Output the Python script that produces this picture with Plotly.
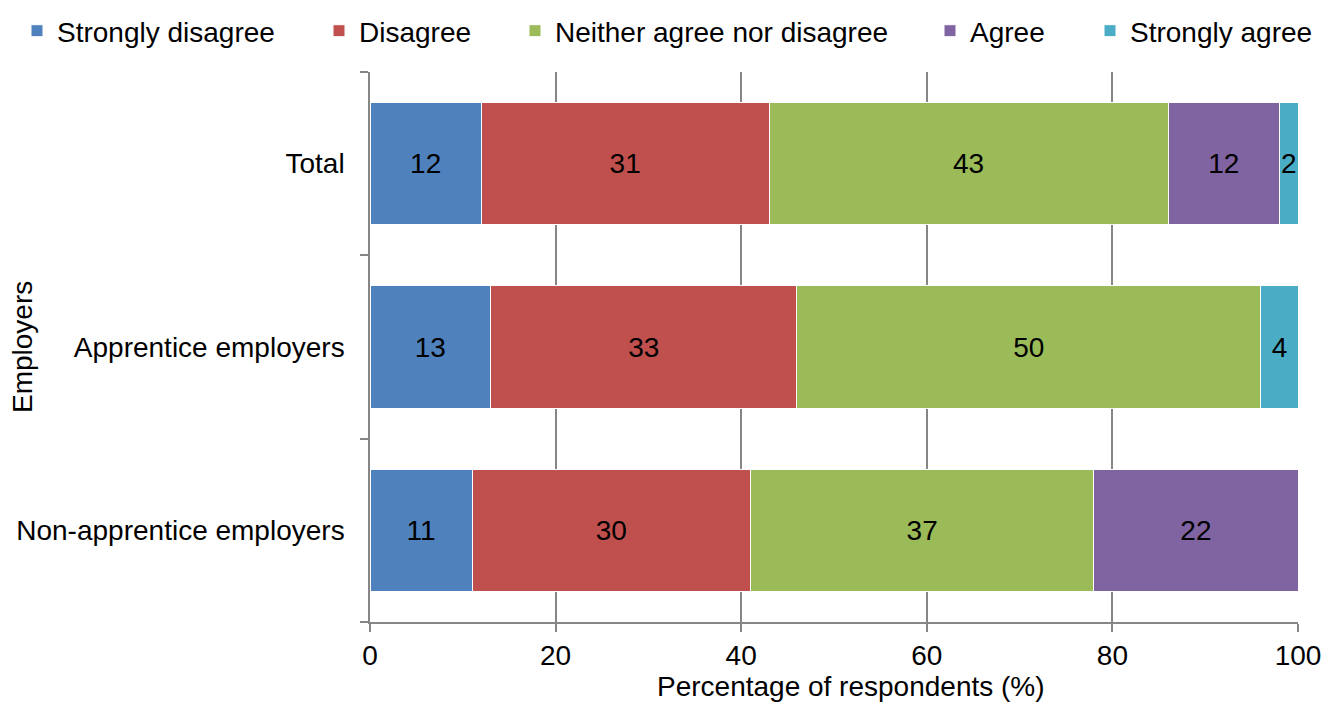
import plotly.graph_objects as go

# Survey responses by employer group (percentage of respondents)
groups = ["Total", "Apprentice employers", "Non-apprentice employers"]
responses = ["Strongly disagree", "Disagree", "Neither agree nor disagree", "Agree", "Strongly agree"]

strongly_disagree = [12, 13, 11]
disagree = [31, 33, 30]
neither = [43, 50, 37]
agree = [12, 0, 22]
strongly_agree = [2, 4, 0]

series = [strongly_disagree, disagree, neither, agree, strongly_agree]
colors = ["#4F81BD", "#C0504D", "#9BBB59", "#8064A2", "#4BACC6"]

# left edge (px) of each legend entry along the top row
legend_left_px = [17, 319, 515, 930, 1090]

FONT = "Liberation Sans, Arial, sans-serif"
GRID = "#868686"
W, H = 1323, 704
M_L, M_R, M_T, M_B = 370, 25, 72, 82
PLOT_W = W - M_L - M_R
PLOT_H = H - M_T - M_B

fig = go.Figure()
legend_layout = {}
for i, (name, values, color) in enumerate(zip(responses, series, colors)):
    key = "legend" if i == 0 else f"legend{i + 1}"
    fig.add_trace(go.Bar(
        name=name,
        y=groups,
        x=values,
        orientation="h",
        legend=key,
        marker=dict(color=color, line=dict(color="white", width=1)),
        text=[str(v) if v else "" for v in values],
        textposition="inside",
        insidetextanchor="middle",
        textfont=dict(color="black", size=28, family=FONT),
        hoverinfo="skip",
    ))
    legend_layout[key] = dict(
        orientation="h",
        xref="container", yref="container",
        x=legend_left_px[i] / W, y=1 - 31 / H,
        xanchor="left", yanchor="middle",
        font=dict(size=28, family=FONT, color="black"),
        bgcolor="rgba(0,0,0,0)",
        borderwidth=0,
    )

fig.update_layout(
    barmode="stack",
    bargap=0.333,
    width=W,
    height=H,
    margin=dict(l=M_L, r=M_R, t=M_T, b=M_B, autoexpand=False),
    paper_bgcolor="white",
    plot_bgcolor="white",
    font=dict(family=FONT, size=28, color="black"),
    uniformtext=dict(minsize=28, mode="show"),
    showlegend=True,
    xaxis=dict(
        range=[0, 100],
        tickvals=[0, 20, 40, 60, 80, 100],
        showgrid=True,
        gridcolor=GRID,
        gridwidth=1.5,
        showline=True,
        linecolor=GRID,
        linewidth=1.5,
        ticks="outside",
        ticklen=8,
        tickcolor=GRID,
        tickwidth=1.5,
        zeroline=False,
        automargin=False,
        tickfont=dict(size=28),
    ),
    yaxis=dict(
        type="category",
        categoryorder="array",
        categoryarray=groups[::-1],
        tickson="boundaries",
        ticks="outside",
        ticklen=8,
        tickcolor=GRID,
        tickwidth=1.5,
        showgrid=False,
        showline=True,
        linecolor=GRID,
        linewidth=1.5,
        ticklabelstandoff=18,
        automargin=False,
        tickfont=dict(size=28),
    ),
    annotations=[
        dict(
            text="Percentage of respondents (%)",
            xref="paper", yref="paper",
            x=(851 - M_L) / PLOT_W, y=-(686 - (H - M_B)) / PLOT_H,
            xanchor="center", yanchor="middle",
            showarrow=False,
            font=dict(size=28, family=FONT, color="black"),
        ),
        dict(
            text="Employers",
            xref="paper", yref="paper",
            x=(22 - M_L) / PLOT_W, y=0.5,
            xanchor="center", yanchor="middle",
            textangle=-90,
            showarrow=False,
            font=dict(size=28, family=FONT, color="black"),
        ),
    ],
)
fig.update_layout(**legend_layout)

fig.write_html("out.html")
